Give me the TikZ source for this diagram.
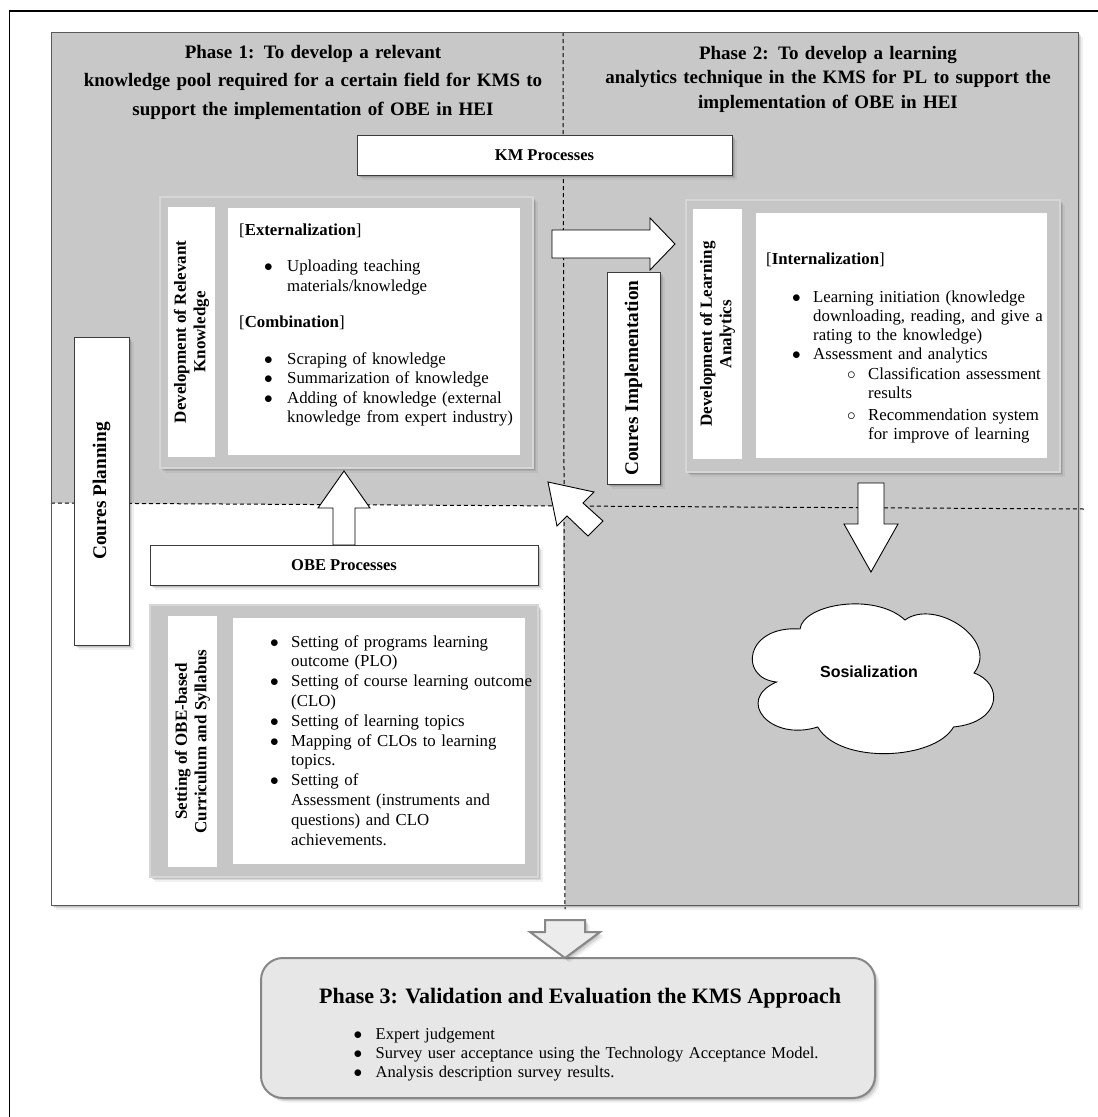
\documentclass[tikz,border=0pt]{standalone}
\usepackage{fontspec}
\setmainfont{Liberation Serif}
\newfontfamily\cloudfont{Liberation Sans}
\usetikzlibrary{shadows}

\definecolor{panelgray}{RGB}{200,200,200}
\definecolor{cardgray}{RGB}{198,198,198}
\definecolor{cardedge}{RGB}{214,214,214}
\definecolor{edgedark}{RGB}{60,60,60}
\definecolor{phasefill}{RGB}{231,231,231}
\definecolor{phaseedge}{RGB}{135,135,135}
\definecolor{arrowfill}{RGB}{236,236,236}

% font sizes (1pt = 1 output pixel)
\newcommand\hdrA{\fontsize{19}{28.5}\selectfont\bfseries}
\newcommand\hdrB{\fontsize{19}{24.5}\selectfont\bfseries}
\newcommand\titlefont{\fontsize{16.5}{20}\selectfont\bfseries}
\newcommand\sidefont{\fontsize{17}{19.5}\selectfont\bfseries}
\newcommand\stagefont{\fontsize{19.3}{23}\selectfont\bfseries}
\newcommand\bodyfont{\fontsize{16.8}{19.5}\selectfont}
\newcommand\listfont{\fontsize{16.8}{19.8}\selectfont}
\newcommand\phasefont{\fontsize{22}{26}\selectfont\bfseries}
\newcommand\phasebody{\fontsize{16.5}{19}\selectfont}
% list markers
\newcommand\bulpt[1]{\makebox[#1][l]{\hspace*{-1pt}$\bullet$}}
\newcommand\ringpt{\makebox[21pt][l]{$\circ$}}

\begin{document}
\begin{tikzpicture}[x=1pt,y=-1pt,
  softshadow/.style={
    drop shadow={shadow xshift=1.5pt,shadow yshift=-1.5pt,opacity=0.18,fill=black!70},
    drop shadow={shadow xshift=3pt,shadow yshift=-3pt,opacity=0.14,fill=black!70},
    drop shadow={shadow xshift=4.5pt,shadow yshift=-4.5pt,opacity=0.08,fill=black!70}},
  whitebox/.style={draw=edgedark,line width=1pt,fill=white,softshadow,inner sep=0pt},
  card/.style={draw=cardedge,line width=1.2pt,fill=cardgray,softshadow,inner sep=0pt},
  pane/.style={fill=white,inner sep=0pt},
  blockarrow/.style={draw=black,line width=0.9pt,fill=white,line join=miter},
  garrow/.style={draw=phaseedge,line width=2pt,fill=arrowfill,line join=miter},
  divider/.style={dash pattern=on 4pt off 3pt,line width=1pt},
  textblock/.style={anchor=base west,inner sep=0pt,align=left,text width=330pt}]

\useasboundingbox (0,0) rectangle (1098,1117);
\fill[white] (0,0) rectangle (1098,1117);

% page frame
\draw[line width=1.4pt] (9.5,1117) -- (9.5,11) -- (1098,11);

% quadrant panel
\fill[panelgray,softshadow] (51,32) rectangle (1078,905);
\fill[white] (51,503) -- (563,506) -- (565,905) -- (51,905) -- cycle;
\draw[divider] (51,503) -- (1084,509);
\draw[divider] (563,32) -- (565,909);
\draw[edgedark!85,line width=0.9pt] (51,32) rectangle (1078,905);

% phase headings
\node[anchor=base,text width=500pt,align=center,inner sep=0pt,font=\hdrA] (phaseone) at (313,58)
  {Phase 1: To develop a relevant\\knowledge pool required for a certain field for KMS to\\support the implementation of OBE in HEI};
\node[anchor=base,text width=500pt,align=center,inner sep=0pt,font=\hdrB] (phasetwo) at (828,59)
  {Phase 2: To develop a learning\\analytics technique in the KMS for PL to support the\\implementation of OBE in HEI};

% process bars
\node[whitebox,minimum width=375pt,minimum height=40pt,font=\titlefont] (km) at (544.5,155) {KM Processes};
\node[whitebox,minimum width=388pt,minimum height=40pt,font=\titlefont] (obe) at (344,565) {OBE Processes};

% stage bars
\node[whitebox,minimum width=55pt,minimum height=308pt] (plan) at (101.5,491) {};
\node[rotate=90,font=\stagefont] (plantext) at (plan.center) {Coures Planning};
\node[whitebox,minimum width=53pt,minimum height=212pt] (impl) at (633.5,378) {};
\node[rotate=90,font=\stagefont] (impltext) at (impl.center) {Coures Implementation};

% development of relevant knowledge
\node[card,minimum width=373pt,minimum height=271pt] (devk) at (346.5,332.5) {};
\node[pane,minimum width=47pt,minimum height=250pt] (devklabel) at (191.5,332) {};
\node[rotate=90,font=\sidefont,align=center] (devklabeltext) at (devklabel.center) {Development of Relevant\\Knowledge};
\node[pane,minimum width=292pt,minimum height=247pt] (devkbody) at (374,331.5) {};
\node[textblock,font=\bodyfont] (devktext) at (239,235) {%
[\textbf{Externalization}]\par
\vskip 17pt
\hspace*{26pt}\bulpt{22pt}Uploading teaching\par
\hspace*{48pt}materials/knowledge\par
\vskip 16.5pt
[\textbf{Combination}]\par
\vskip 17.5pt
\hspace*{26pt}\bulpt{22pt}Scraping of knowledge\par
\hspace*{26pt}\bulpt{22pt}Summarization of knowledge\par
\hspace*{26pt}\bulpt{22pt}Adding of knowledge (external\par
\hspace*{48pt}knowledge from expert industry)\par};

% development of learning analytics
\node[card,minimum width=374pt,minimum height=272pt] (devl) at (873,336) {};
\node[pane,minimum width=49pt,minimum height=250pt] (devllabel) at (717.5,334) {};
\node[rotate=90,font=\sidefont,align=center] (devllabeltext) at (devllabel.center) {Development of Learning\\Analytics};
\node[pane,minimum width=291pt,minimum height=245pt] (devlbody) at (901.5,335.5) {};
\node[textblock,font=\fontsize{16.8}{19.3}\selectfont] (devltext) at (766,264) {%
[\textbf{Internalization}]\par
\vskip 18.7pt
\hspace*{27pt}\bulpt{20pt}Learning initiation (knowledge\par
\hspace*{47pt}downloading, reading, and give a\par
\hspace*{47pt}rating to the knowledge)\par
\hspace*{27pt}\bulpt{20pt}Assessment and analytics\par
\hspace*{81pt}\ringpt Classification assessment\par
\hspace*{102pt}results\par
\vskip 2.5pt
\hspace*{81pt}\ringpt Recommendation system\par
\hspace*{102pt}for improve of learning\par};

% OBE-based curriculum
\node[card,minimum width=388pt,minimum height=272pt] (setting) at (344,741) {};
\node[pane,minimum width=49pt,minimum height=251pt] (settinglabel) at (192.5,741.5) {};
\node[rotate=90,font=\sidefont,align=center] (settinglabeltext) at (settinglabel.center) {Setting of OBE-based\\Curriculum and Syllabus};
\node[pane,minimum width=292pt,minimum height=246pt] (settingbody) at (379,741) {};
\node[textblock,font=\listfont] (settingtext) at (271,647) {%
\bulpt{20pt}Setting of programs learning\par
\hspace*{20pt}outcome (PLO)\par
\bulpt{20pt}Setting of course learning outcome\par
\hspace*{20pt}(CLO)\par
\bulpt{20pt}Setting of learning topics\par
\bulpt{20pt}Mapping of CLOs to learning\par
\hspace*{20pt}topics.\par
\bulpt{20pt}Setting of\par
\hspace*{20pt}Assessment (instruments and\par
\hspace*{20pt}questions) and CLO\par
\hspace*{20pt}achievements.\par};

% block arrows between the stages
\draw[blockarrow] (552,230) -- (650,230) -- (650,218) -- (675,244) -- (650,270) -- (650,258) -- (552,258) -- cycle;
\draw[blockarrow] (333,545) -- (333,508) -- (318,508) -- (344,471) -- (370,508) -- (355,508) -- (355,545) -- cycle;
\draw[blockarrow] (548,482) -- (594,492) -- (583,503) -- (603,521) -- (588,536) -- (567,516) -- (557,526) -- cycle;
\draw[blockarrow] (858,483) -- (884,483) -- (884,524) -- (898,524) -- (871,572) -- (844,524) -- (858,524) -- cycle;

% socialization cloud
\draw[black,line width=0.9pt,fill=white]
  (800,629) .. controls (803,604) and (875,592) .. (905,620)
  .. controls (935,598) and (1000,640) .. (974,673)
  .. controls (1003,683) and (1003,722) .. (953.5,727)
  .. controls (935,760) and (840,765) .. (817.7,727)
  .. controls (770,742) and (735,700) .. (776.5,682)
  .. controls (738,678) and (745,625) .. (800,629) -- cycle;
\node[font={\cloudfont\fontsize{16}{19}\selectfont\bfseries}] (social) at (869,672) {Sosialization};

% phase 3
\node[draw=phaseedge,line width=2pt,fill=phasefill,rounded corners=22pt,minimum width=614pt,minimum height=140pt,softshadow] (phasethree) at (568,1028) {};
\draw[garrow,softshadow] (545,920) -- (585,920) -- (585,932) -- (600,932) -- (565,958) -- (530,932) -- (545,932) -- cycle;
\node[anchor=base west,inner sep=0pt,font=\phasefont] (phasethreetitle) at (319,1003) {Phase 3: Validation and Evaluation the KMS Approach};
\node[textblock,text width=520pt,font=\phasebody] (phasethreelist) at (354.5,1039) {%
\bulpt{21pt}Expert judgement\par
\bulpt{21pt}Survey user acceptance using the Technology Acceptance Model.\par
\bulpt{21pt}Analysis description survey results.\par};

\end{tikzpicture}
\end{document}
